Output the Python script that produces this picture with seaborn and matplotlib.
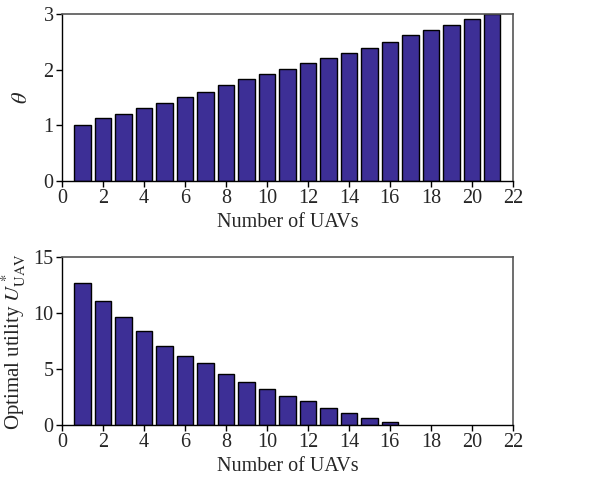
import numpy as np
import pandas as pd
import seaborn as sns
import matplotlib.pyplot as plt

# data
n_uav = list(range(1, 22))
theta = [1.00, 1.13, 1.21, 1.32, 1.41, 1.51, 1.60, 1.72, 1.83, 1.93, 2.01,
         2.12, 2.21, 2.30, 2.40, 2.51, 2.63, 2.72, 2.81, 2.91, 3.00]
utility = [12.66, 11.05, 9.64, 8.41, 7.10, 6.20, 5.54, 4.61, 3.89, 3.23, 2.63,
           2.13, 1.56, 1.05, 0.66, 0.27, 0, 0, 0, 0, 0]

df = pd.DataFrame({"n": n_uav, "theta": theta, "u": utility})

sns.set_style("white")
plt.rcParams['font.family'] = ['Liberation Serif', 'DejaVu Serif']
plt.rcParams['mathtext.fontset'] = 'stix'

bar_color = "#3d2f96"
fig = plt.figure(figsize=(6.15, 4.92), dpi=100)
ax1 = fig.add_axes([0.1008, 0.632, 0.733, 0.339])
ax2 = fig.add_axes([0.1008, 0.136, 0.733, 0.341])

sns.barplot(data=df, x="n", y="theta", native_scale=True, color=bar_color,
            saturation=1, width=0.8, edgecolor="black", linewidth=1, ax=ax1)
sns.barplot(data=df, x="n", y="u", native_scale=True, color=bar_color,
            saturation=1, width=0.8, edgecolor="black", linewidth=1, ax=ax2)

# no outline for the empty bars
for p in ax2.patches:
    if p.get_height() == 0:
        p.set_linewidth(0)

ax1.set_ylim(0, 3)
ax1.set_yticks([0, 1, 2, 3])
ax1.set_ylabel(r"$\theta$", fontsize=16, labelpad=8)
ax2.set_ylim(0, 15)
ax2.set_yticks([0, 5, 10, 15])
ax2.set_ylabel(r"Optimal utility $U^*_{\mathrm{UAV}}$", fontsize=15, labelpad=4)

for ax in (ax1, ax2):
    ax.set_xlim(0, 22)
    ax.set_xticks(range(0, 23, 2))
    ax.set_xlabel("Number of UAVs", fontsize=14.5, labelpad=3)
    ax.tick_params(axis="both", direction="out", length=4, width=1, pad=2,
                   labelsize=14.5, bottom=True, left=True, color="black")
    for s in ("left", "bottom"):
        ax.spines[s].set_color("black")
        ax.spines[s].set_linewidth(1)
    for s in ("top", "right"):
        ax.spines[s].set_color("#555555")
        ax.spines[s].set_linewidth(1.2)

fig.savefig("out.png", dpi=100)
